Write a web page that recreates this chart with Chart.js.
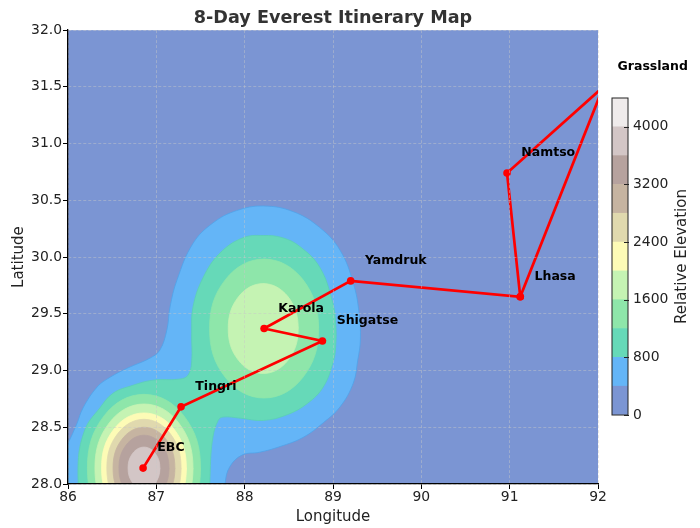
<!DOCTYPE html>
<html>
<head>
<meta charset="utf-8">
<title>8-Day Everest Itinerary Map</title>
<script src="https://cdn.jsdelivr.net/npm/chart.js@4"></script>
<style>
  html, body { margin: 0; padding: 0; background: #fff; }
  canvas { position: absolute; top: 0; }
  #map { left: 0; }
  #bar { left: 600px; }
</style>
</head>
<body>
<canvas id="map" width="700" height="528"></canvas>
<canvas id="bar" width="100" height="528"></canvas>
<script>
// route stops
const stopNames = ['EBC', 'Tingri', 'Shigatse', 'Karola', 'Yamdruk', 'Lhasa', 'Grassland', 'Namtso'];
const stopLon = [86.85, 87.28, 88.88, 88.22, 89.20, 91.12, 92.06, 90.97];
const stopLat = [28.14, 28.68, 29.26, 29.37, 29.79, 29.65, 31.50, 30.74];
// the last leg goes back to Lhasa
const routeOrder = [0, 1, 2, 3, 4, 5, 6, 7, 5];

// axis ticks
const lonRange = [86, 92];
const latRange = [28, 32];
const barTicks = [0, 800, 1600, 2400, 3200, 4000];

// colour bar bands
const elevationLevels = [0, 400, 800, 1200, 1600, 2000, 2400, 2800, 3200, 3600, 4000, 4400];
const bandColors = ['#7b95d3', '#64b5f7', '#66d9b8', '#8ee6aa', '#c5f3b3', '#fdfbb6', '#e0d9ae', '#c6b4a1', '#b6a29e', '#d3c6c6', '#efebeb'];
const edgeColors = ['#7b95d3', '#4fa3ea', '#5cd0b4', '#8ee6aa', '#c5f3b3', '#fdfbb6', '#e0d9ae', '#c6b4a1', '#b6a29e', '#d3c6c6', '#efebeb'];

// contour outlines, [lon, lat]
const level400 = [[85.93,27.6],[85.93,28.27],[86.0,28.36],[86.10,28.53],[86.17,28.67],[86.33,28.855],[86.475,28.94],[86.67,29.02],[86.93,29.11],[87.04,29.18],[87.12,29.36],[87.155,29.56],[87.235,29.80],[87.415,30.12],[87.64,30.30],[87.91,30.41],[88.21,30.45],[88.55,30.40],[88.85,30.26],[89.08,30.06],[89.23,29.77],[89.295,29.51],[89.31,29.27],[89.28,29.09],[89.23,28.89],[89.08,28.68],[88.89,28.54],[88.66,28.41],[88.40,28.33],[88.17,28.28],[87.97,28.255],[87.83,28.15],[87.78,28.01],[87.74,27.6]];
const level800 = [[86.17,27.6],[86.113,28.14],[86.19,28.476],[86.36,28.67],[86.51,28.80],[86.735,28.87],[86.96,28.915],[87.27,28.925],[87.36,28.96],[87.40,29.075],[87.40,29.33],[87.415,29.56],[87.53,29.82],[87.72,30.035],[87.98,30.17],[88.21,30.19],[88.43,30.17],[88.63,30.09],[88.85,29.91],[88.99,29.62],[89.03,29.42],[89.03,29.21],[89.0,29.07],[88.89,28.855],[88.71,28.71],[88.48,28.61],[88.21,28.56],[87.95,28.58],[87.755,28.59],[87.70,28.56],[87.64,28.41],[87.61,28.12],[87.60,27.6]];
const level1200North = [[88.22,29.982],[88.656,29.803],[88.837,29.37],[88.656,28.937],[88.22,28.758],[87.784,28.937],[87.603,29.37],[87.784,29.803]];
const level1600North = [[88.21,29.766],[88.49,29.65],[88.606,29.37],[88.49,29.09],[88.21,28.974],[87.93,29.09],[87.814,29.37],[87.93,29.65]];
const level1200South = [[86.86,27.49],[87.312,27.68],[87.50,28.14],[87.312,28.60],[86.86,28.79],[86.408,28.60],[86.22,28.14],[86.408,27.68]];
const level1600South = [[86.86,27.575],[87.252,27.74],[87.415,28.14],[87.252,28.54],[86.86,28.705],[86.468,28.54],[86.305,28.14],[86.468,27.74]];
const level2000 = [[86.86,27.654],[87.2,27.796],[87.34,28.14],[87.2,28.484],[86.86,28.626],[86.52,28.484],[86.38,28.14],[86.52,27.796]];
const level2400 = [[86.86,27.71],[87.157,27.836],[87.28,28.14],[87.157,28.444],[86.86,28.57],[86.563,28.444],[86.44,28.14],[86.563,27.836]];
const level2800 = [[86.86,27.78],[87.108,27.886],[87.21,28.14],[87.108,28.395],[86.86,28.50],[86.612,28.395],[86.51,28.14],[86.612,27.886]];
const level3200 = [[86.86,27.85],[87.06,27.935],[87.143,28.14],[87.06,28.345],[86.86,28.43],[86.66,28.345],[86.577,28.14],[86.66,27.935]];
const level3600 = [[86.86,27.955],[86.987,28.009],[87.04,28.14],[86.987,28.271],[86.86,28.325],[86.733,28.271],[86.68,28.14],[86.733,28.009]];

const FONT = "'DejaVu Sans', sans-serif";
const LABEL_OFFSET = 0.15;

Chart.defaults.font.family = FONT;
Chart.defaults.animation = false;

// repeat the first points so the spline closes without a corner
function ring(pts) {
  return pts.concat(pts.slice(0, 3));
}

function contour(pts, band, order) {
  return {
    type: 'scatter',
    showLine: true,
    data: pts.map(p => ({ x: p[0], y: p[1] })),
    backgroundColor: bandColors[band],
    borderColor: edgeColors[band],
    borderWidth: 0.8,
    fill: 'shape',
    tension: 0.4,
    pointRadius: 0,
    order: order
  };
}

const contourSets = [
  contour(level400, 1, 20),
  contour(level800, 2, 19),
  contour(ring(level1200North), 3, 18),
  contour(ring(level1200South), 3, 17),
  contour(ring(level1600North), 4, 16),
  contour(ring(level1600South), 4, 15),
  contour(ring(level2000), 5, 14),
  contour(ring(level2400), 6, 13),
  contour(ring(level2800), 7, 12),
  contour(ring(level3200), 8, 11),
  contour(ring(level3600), 9, 10)
];

const routeSet = {
  type: 'scatter',
  showLine: true,
  data: routeOrder.map(i => ({ x: stopLon[i], y: stopLat[i] })),
  borderColor: '#ff0000',
  backgroundColor: '#ff0000',
  borderWidth: 2.7,
  pointRadius: 3.8,
  pointBorderWidth: 0,
  tension: 0,
  order: 0
};

const plotBackground = {
  id: 'plotBackground',
  beforeDatasetsDraw(chart) {
    const { ctx, chartArea: a } = chart;
    ctx.save();
    ctx.fillStyle = bandColors[0];
    ctx.fillRect(a.left, a.top, a.right - a.left, a.bottom - a.top);
    ctx.restore();
  }
};

const stopLabels = {
  id: 'stopLabels',
  afterDraw(chart) {
    const { ctx, scales } = chart;
    ctx.save();
    ctx.font = 'bold 12.5px ' + FONT;
    ctx.fillStyle = '#000';
    ctx.textAlign = 'left';
    ctx.textBaseline = 'alphabetic';
    stopNames.forEach((name, i) => {
      ctx.fillText(name, scales.x.getPixelForValue(stopLon[i] + LABEL_OFFSET) + 1, scales.y.getPixelForValue(stopLat[i] + LABEL_OFFSET));
    });
    ctx.restore();
  }
};

const gridOpts = {
  color: 'rgba(200,200,200,0.45)',
  z: 1,
  tickLength: 5,
  tickColor: '#000',
  tickWidth: 1
};
const borderOpts = { color: '#000', width: 1.3, dash: [3, 2], z: 2 };

new Chart(document.getElementById('map'), {
  type: 'scatter',
  data: { datasets: [routeSet, ...contourSets] },
  plugins: [plotBackground, stopLabels],
  options: {
    responsive: false,
    animation: false,
    layout: { padding: { right: 102 } },
    plugins: {
      legend: { display: false },
      tooltip: { enabled: false },
      title: {
        display: true,
        text: '8-Day Everest Itinerary Map',
        color: '#333',
        fullSize: false,
        font: { size: 17.6, weight: 'bold' },
        padding: { top: 8, bottom: 1 }
      }
    },
    scales: {
      x: {
        type: 'linear',
        min: lonRange[0],
        max: lonRange[1],
        afterFit: s => { s.height = 44; },
        ticks: { stepSize: 1, color: '#222', font: { size: 13.9 }, padding: 0, maxRotation: 0 },
        grid: gridOpts,
        border: borderOpts,
        title: { display: true, text: 'Longitude', color: '#222', font: { size: 15 }, padding: { top: 0, bottom: 2 } }
      },
      y: {
        type: 'linear',
        min: latRange[0],
        max: latRange[1],
        afterFit: s => { s.width = 68; },
        ticks: { stepSize: 0.5, color: '#222', font: { size: 13.9 }, padding: 1, callback: v => v.toFixed(1) },
        grid: gridOpts,
        border: borderOpts,
        title: { display: true, text: 'Latitude', color: '#222', font: { size: 15 }, padding: { top: 10, bottom: 0 } }
      }
    }
  }
});

// colour bar
const barFrame = {
  id: 'barFrame',
  afterDraw(chart) {
    const { ctx, chartArea: a, scales } = chart;
    ctx.save();
    ctx.strokeStyle = '#222';
    ctx.lineWidth = 1;
    ctx.strokeRect(a.left, a.top, a.right - a.left, a.bottom - a.top);
    scales.y.ticks.forEach(t => {
      const py = Math.round(scales.y.getPixelForValue(t.value)) + 0.5;
      ctx.beginPath();
      ctx.moveTo(a.right - 4, py);
      ctx.lineTo(a.right + 1, py);
      ctx.stroke();
    });
    ctx.translate(82, (a.top + a.bottom) / 2);
    ctx.rotate(-Math.PI / 2);
    ctx.font = '15px ' + FONT;
    ctx.fillStyle = '#222';
    ctx.textAlign = 'center';
    ctx.textBaseline = 'middle';
    ctx.fillText('Relative Elevation', 0, 0);
    ctx.restore();
  }
};

new Chart(document.getElementById('bar'), {
  type: 'bar',
  data: {
    labels: ['elevation'],
    datasets: bandColors.map((color, i) => ({
      data: [elevationLevels[i + 1] - elevationLevels[i]],
      backgroundColor: color,
      barPercentage: 1,
      categoryPercentage: 1,
      borderWidth: 0
    }))
  },
  plugins: [barFrame],
  options: {
    responsive: false,
    animation: false,
    layout: { padding: { left: 12, top: 98, bottom: 113 } },
    plugins: { legend: { display: false }, tooltip: { enabled: false } },
    scales: {
      x: { stacked: true, display: false },
      y: {
        stacked: true,
        position: 'right',
        min: 0,
        max: 4400,
        afterFit: s => { s.width = 72; },
        afterBuildTicks: s => { s.ticks = barTicks.map(v => ({ value: v })); },
        ticks: { color: '#222', font: { size: 13.9 }, padding: 5, callback: v => String(v) },
        grid: { display: true, drawOnChartArea: false, drawTicks: false },
        border: { display: false }
      }
    }
  }
});
</script>
</body>
</html>
